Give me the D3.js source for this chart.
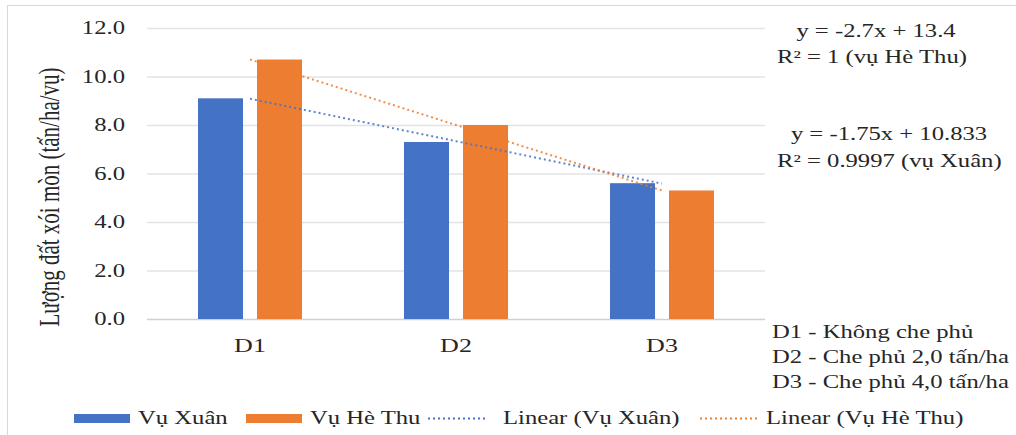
<!DOCTYPE html>
<html><head><meta charset="utf-8">
<script src="https://cdn.jsdelivr.net/npm/d3@7"></script>
<style>body{margin:0;background:#fff}svg{display:block}svg text{font-family:'Liberation Serif','Times New Roman','DejaVu Serif',serif !important;fill:#262626}</style>
</head><body>
<svg id="c" width="1016" height="435"></svg>
<script>
const categories = ["D1","D2","D3"];
const seriesNames = ["Vụ Xuân","Vụ Hè Thu"];
const vuXuan = [9.1, 7.3, 5.6];
const vuHeThu = [10.7, 8.0, 5.3];
const yTicks = [0,2,4,6,8,10,12];
const equations = [["y = -2.7x + 13.4","R² = 1 (vụ Hè Thu)"],["y = -1.75x + 10.833","R² = 0.9997 (vụ Xuân)"]];
const notes = ["D1 - Không che phủ","D2 - Che phủ 2,0 tấn/ha","D3 - Che phủ 4,0 tấn/ha"];
const yTitle = "Lượng đất xói mòn (tấn/ha/vụ)";
const colors = ["#4472C4","#ED7D31"];
const FONT = "'Liberation Serif','Times New Roman','DejaVu Serif',serif";
const SX = 1.37; // horizontal stretch of the reference picture

const svg = d3.select("#c").attr("font-family",FONT);
svg.append("rect").attr("x",7.5).attr("y",5.5).attr("width",1020).attr("height",440).attr("fill","none").attr("stroke","#d9d9d9");

const y = d3.scaleLinear().domain([0,12]).range([319,28]);
const x0 = d3.scaleBand().domain(categories).range([147,765]).paddingInner(0.495).paddingOuter(0.2475);
const x1 = d3.scaleBand().domain(seriesNames).range([0,x0.bandwidth()]).paddingInner(0.237);

svg.append("g").selectAll("line").data(yTicks).join("line")
  .attr("x1",147).attr("x2",765).attr("y1",d=>y(d)+0.5).attr("y2",d=>y(d)+0.5)
  .attr("stroke",d=>d===0?"#d0d0d0":"#e3e3e3").attr("stroke-width",1.3);

const yAxis = d3.axisLeft(y).tickValues(yTicks).tickFormat(d3.format(".1f")).tickSize(0).tickPadding(0);
const ga = svg.append("g").attr("transform","translate(125,0)").call(yAxis).attr("font-family",FONT).attr("font-size",18);
ga.select(".domain").remove();
ga.selectAll("text").attr("fill","#333").attr("transform",`scale(${SX},1)`);

const xAxis = d3.axisBottom(x0).tickSize(0).tickPadding(0);
const gx = svg.append("g").attr("transform","translate(0,339)").call(xAxis).attr("font-family",FONT).attr("font-size",19);
gx.select(".domain").remove();
gx.selectAll("text").attr("fill","#333").attr("transform",`scale(${SX},1)`);

const data = [vuXuan, vuHeThu];
data.forEach((vals,si)=>{
  svg.append("g").selectAll("rect").data(categories).join("rect")
    .attr("x",c=>x0(c)+x1(seriesNames[si]))
    .attr("width",x1.bandwidth())
    .attr("y",(c,i)=>y(vals[i]))
    .attr("height",(c,i)=>y(0)-y(vals[i]))
    .attr("fill",colors[si]);
});

function fit(vals){
  const xs=vals.map((v,i)=>i+1);
  const mx=d3.mean(xs), my=d3.mean(vals);
  const b=d3.sum(xs.map((xv,i)=>(xv-mx)*(vals[i]-my)))/d3.sum(xs.map(xv=>(xv-mx)**2));
  const a=my-b*mx; return xs.map(xv=>a+b*xv);
}
data.forEach((vals,si)=>{
  const f = fit(vals);
  const line = d3.line().x((d,i)=>x0(categories[i])+x0.bandwidth()/2).y(d=>y(d));
  svg.append("path").datum(f).attr("d",line).attr("fill","none")
    .attr("stroke",colors[si]).attr("stroke-width",2).attr("stroke-dasharray","2,3").attr("opacity",0.85);
});

function label(x,yy,txt,size,anchor){
  return svg.append("text").attr("transform",`translate(${x},${yy}) scale(${SX},1)`)
    .attr("text-anchor",anchor||"start").attr("font-size",size).text(txt);
}

svg.append("text").attr("transform",`translate(59,197) scale(${SX},1) rotate(-90)`).attr("text-anchor","middle")
  .attr("font-size",21).text(yTitle);

label(876,37,equations[0][0],18,"middle");
label(777,63,equations[0][1],18);
label(889,140,equations[1][0],18,"middle");
label(777,167,equations[1][1],18);

notes.forEach((t,i)=>label(772,338+i*25,t,18));

const legendItems = [
  {type:"rect",c:colors[0],x:74,tx:138,label:"Vụ Xuân"},
  {type:"rect",c:colors[1],x:246,tx:310,label:"Vụ Hè Thu"},
  {type:"line",c:colors[0],x:428,tx:503,label:"Linear (Vụ Xuân)"},
  {type:"line",c:colors[1],x:700,tx:766,label:"Linear (Vụ Hè Thu)"}
];
legendItems.forEach(it=>{
  if(it.type==="rect"){
    svg.append("rect").attr("x",it.x).attr("y",414).attr("width",56).attr("height",9).attr("fill",it.c);
  } else {
    svg.append("line").attr("x1",it.x).attr("x2",it.x+60).attr("y1",418.5).attr("y2",418.5)
      .attr("stroke",it.c).attr("stroke-width",2).attr("stroke-dasharray","2,3");
  }
  label(it.tx,424,it.label,18);
});
</script>
</body></html>
